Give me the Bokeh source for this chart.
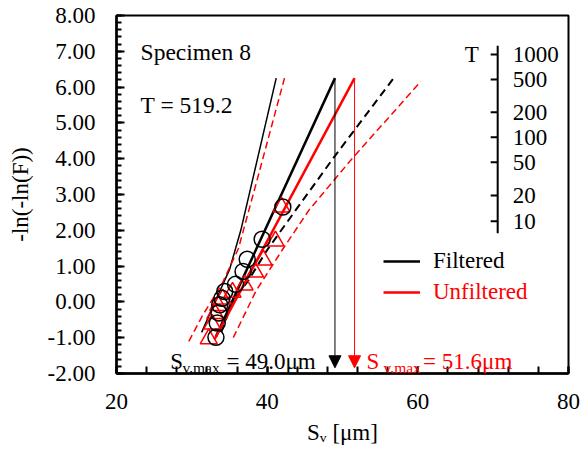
import numpy as np
from bokeh.plotting import figure
from bokeh.models import (FixedTicker, NumeralTickFormatter, Label, Arrow, NormalHead,
                          Legend, LegendItem, Range1d)
from bokeh.core.properties import value
from bokeh.embed import file_html
from bokeh.resources import INLINE

# ---------------- data ----------------
filt_x = [33.2, 33.37, 33.6, 33.7, 34.0, 34.37, 35.8, 36.8, 37.35, 39.33, 42.08]
filt_y = [-0.99, -0.59, -0.31, -0.08, 0.10, 0.29, 0.49, 0.85, 1.19, 1.75, 2.65]
unf_x = [32.25, 32.7, 33.1, 33.5, 34.1, 35.4, 37.0, 38.4, 39.5, 41.1, 41.9]
unf_y = [-1.03, -0.62, -0.33, -0.10, 0.08, 0.27, 0.47, 0.83, 1.17, 1.70, 2.65]

T_value = 519.2
svmax_filt = 49.0
svmax_unf = 51.6
y_T = -np.log(-np.log(1 - 1 / T_value))

fit_filt_x = [33.2, svmax_filt]
fit_filt_y = [-0.97, y_T]
fit_unf_x = [33.0, svmax_unf]
fit_unf_y = [-1.05, y_T]

band_filt_up_x = [31.3, 33.5, 35.0, 36.5, 37.8, 41.2]
band_filt_up_y = [-0.85, 0.2, 0.9, 2.0, 3.17, y_T]
band_filt_lo_x = [33.9, 35.4, 37.5, 40.0, 43.4, 48.9, 56.8]
band_filt_lo_y = [-0.85, 0.0, 0.6, 1.45, 2.45, 4.05, y_T]
band_unf_up_x = [29.6, 31.5, 34.0, 36.2, 38.4, 42.3]
band_unf_up_y = [-1.1, -0.35, 0.5, 1.5, 3.2, y_T]
band_unf_lo_x = [35.5, 38.5, 42.0, 45.5, 51.1, 60.4]
band_unf_lo_y = [-1.0, 0.3, 1.45, 2.55, 3.96, 6.16]

T_ticks = [1000, 500, 200, 100, 50, 20, 10]
x_ticks = [20, 40, 60, 80]
y_ticks = [-2, -1, 0, 1, 2, 3, 4, 5, 6, 7, 8]

FONT = "'Liberation Serif', 'Times New Roman', serif"
RED = "#FF0000"
FS = "23px"

p = figure(width=581, height=452, x_range=Range1d(20, 80), y_range=Range1d(-2, 8),
           output_backend="svg", toolbar_location=None,
           min_border_left=116, min_border_right=13, min_border_top=15, min_border_bottom=79)
p.grid.visible = False
p.outline_line_color = "black"
p.outline_line_width = 2
p.background_fill_color = "white"
p.border_fill_color = "white"

# axes
p.xaxis.ticker = FixedTicker(ticks=x_ticks, minor_ticks=list(range(20, 81, 4)))
p.yaxis.ticker = FixedTicker(ticks=y_ticks, minor_ticks=[round(-2 + 0.2 * i, 1) for i in range(51)])
p.yaxis.formatter = NumeralTickFormatter(format="0.00")
for ax in (p.xaxis[0], p.yaxis[0]):
    ax.axis_line_width = 2.5
    ax.axis_line_color = "black"
    ax.major_tick_out = 0
    ax.minor_tick_out = 0
    ax.major_tick_line_width = 2
    ax.minor_tick_line_width = 2
    ax.major_tick_line_color = "black"
    ax.minor_tick_line_color = "black"
    ax.major_label_text_font = FONT
    ax.major_label_text_font_size = FS
    ax.major_label_text_color = "black"
    ax.axis_label_text_font = FONT
    ax.axis_label_text_font_size = FS
    ax.axis_label_text_font_style = "normal"
    ax.axis_label_text_color = "black"
p.xaxis.major_tick_in = 7
p.xaxis.minor_tick_in = 7
p.yaxis.major_tick_in = 8
p.yaxis.minor_tick_in = 5
p.xaxis.major_label_standoff = 20
p.yaxis.major_label_standoff = 21
p.yaxis.axis_label = "-ln(-ln(F))"
p.yaxis.axis_label_standoff = 12
p.xaxis.axis_label = "S\u1d65 [μm]"
p.xaxis.axis_label_standoff = 8

# bands
p.line(band_filt_up_x, band_filt_up_y, line_color="black", line_width=1.5)
p.line(band_unf_up_x, band_unf_up_y, line_color=RED, line_width=1.5, line_dash="7 4")
p.line(band_filt_lo_x, band_filt_lo_y, line_color="black", line_width=2, line_dash="8 5")
p.line(band_unf_lo_x, band_unf_lo_y, line_color=RED, line_width=1.5, line_dash="7 4")

# fits
r_f = p.line(fit_filt_x, fit_filt_y, line_color="black", line_width=2.5)
r_u = p.line(fit_unf_x, fit_unf_y, line_color=RED, line_width=2.5)

# markers
p.scatter(unf_x, unf_y, marker="triangle", size=17, fill_alpha=0, line_color=RED, line_width=1.5)
p.scatter(filt_x, filt_y, marker="circle", size=16, fill_alpha=0, line_color="black", line_width=1.5)

# arrows
p.add_layout(Arrow(end=NormalHead(size=12, fill_color="black", line_color="black"),
                   x_start=svmax_filt, y_start=y_T, x_end=svmax_filt, y_end=-1.84,
                   line_color="black", line_width=1))
p.add_layout(Arrow(end=NormalHead(size=12, fill_color=RED, line_color=RED),
                   x_start=svmax_unf, y_start=y_T, x_end=svmax_unf, y_end=-1.84,
                   line_color=RED, line_width=1))

# T axis
T_y = [float(-np.log(-np.log(1 - 1 / t))) for t in T_ticks]
T_x = 70.6
p.segment(x0=[T_x], y0=[T_y[0] + 0.25], x1=[T_x], y1=[T_y[-1] - 0.33], line_color="black", line_width=2)
p.segment(x0=[T_x - 0.93] * len(T_y), y0=T_y, x1=[T_x] * len(T_y), y1=T_y, line_color="black", line_width=2)
p.text(x=[T_x + 2.0] * len(T_y), y=T_y, text=[str(t) for t in T_ticks], text_align="left",
       text_baseline="middle", text_font=value(FONT), text_font_size=FS, text_color="black")
p.text(x=[T_x - 2.5], y=[T_y[0]], text=["T"], text_align="right", text_baseline="middle",
       text_font=value(FONT), text_font_size=FS, text_color="black")

def lab(x, y, t, size=FS, color="black", align="left"):
    p.add_layout(Label(x=x, y=y, text=t, text_font=FONT, text_font_size=size, text_color=color,
                       text_align=align, text_baseline="alphabetic"))

lab(23.2, 6.97, "Specimen 8", size="23.5px")
lab(23.2, 5.49, "T = " + str(T_value), size="23.5px")

# Sv,max annotations
lab(27.15, -1.67, "S")
lab(28.75, -1.83, "v,max", size="15.5px")
lab(34.6, -1.67, "= %.1fμm" % svmax_filt)
lab(53.2, -1.67, "S", color=RED)
lab(55.45, -1.83, "v,max", size="15.5px", color=RED)
lab(60.7, -1.67, "= %.1fμm" % svmax_unf, color=RED)

# legends
for r, name, col, yloc in ((r_f, "Filtered", "black", 99), (r_u, "Unfiltered", RED, 68)):
    lg = Legend(items=[LegendItem(label=name, renderers=[r])], location=(267, yloc),
                padding=0, margin=0, spacing=0, glyph_width=37, glyph_height=22,
                label_height=22, label_standoff=13, label_text_font=FONT,
                label_text_font_size=FS, label_text_color=col,
                border_line_alpha=0, background_fill_alpha=0)
    p.add_layout(lg)

open("out.html", "w").write(file_html(p, INLINE))
